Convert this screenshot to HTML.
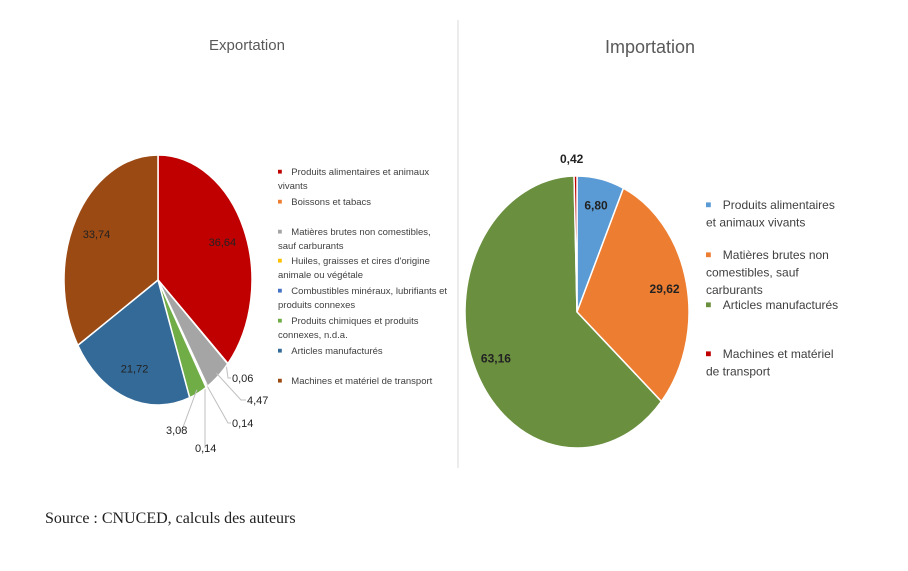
<!DOCTYPE html>
<html><head><meta charset="utf-8">
<style>
body{margin:0;background:#fff;width:908px;height:566px;overflow:hidden;font-family:"Liberation Sans",sans-serif}
svg text{font-family:"Liberation Sans",sans-serif}
</style></head>
<body>
<svg id="c" width="908" height="566">
  <text x="247" y="50" font-size="15" fill="#595959" text-anchor="middle">Exportation</text>
  <text x="650" y="53" font-size="18" fill="#595959" text-anchor="middle">Importation</text>
  <line x1="458" y1="20" x2="458" y2="468" stroke="#d9d9d9" stroke-width="1"/>
  <text x="45" y="523" font-size="16" fill="#222" style="font-family:'Liberation Serif',serif">Source : CNUCED, calculs des auteurs</text>
  <g id="exp"></g>
  <g id="imp"></g>
  <g id="leg"></g>
</svg>
<script>
const exportCategories=["Produits alimentaires et animaux vivants","Boissons et tabacs","Matières brutes non comestibles, sauf carburants","Huiles, graisses et cires d'origine animale ou végétale","Combustibles minéraux, lubrifiants et produits connexes","Produits chimiques et produits connexes, n.d.a.","Articles manufacturés","Machines et matériel de transport"];
const exportValues=[36.64,0.06,4.47,0.14,0.14,3.08,21.72,33.74];
const exportLabels=["36,64","0,06","4,47","0,14","0,14","3,08","21,72","33,74"];
const importCategories=["Produits alimentaires et animaux vivants","Matières brutes non comestibles, sauf carburants","Articles manufacturés","Machines et matériel de transport"];
const importValues=[6.80,29.62,63.16,0.42];
const importLabels=["6,80","29,62","63,16","0,42"];

const expColors=["#c00000","#ed7d31","#a5a5a5","#ffc000","#4472c4","#70ad47","#336a98","#9c4a14"];
const impColors=["#5b9bd5","#ed7d31","#6a8f3f","#c00000"];
const NS="http://www.w3.org/2000/svg";
function mk(t,a,p){const e=document.createElementNS(NS,t);for(const k in a)e.setAttribute(k,a[k]);p.appendChild(e);return e;}
function pt(cx,cy,rx,ry,ang,f){return [cx+rx*f*Math.sin(ang),cy-ry*f*Math.cos(ang)];}
function pie(g,vals,labels,colors,cx,cy,rx,ry,name,outside,bold,lf){
  const tot=vals.reduce((a,b)=>a+b,0);let a0=0;
  vals.forEach((v,i)=>{
    const a1=a0+v/tot*2*Math.PI;
    const p0=pt(cx,cy,rx,ry,a0,1),p1=pt(cx,cy,rx,ry,a1,1);
    const large=(a1-a0)>Math.PI?1:0;
    const p=mk('path',{d:`M${cx},${cy}L${p0[0]},${p0[1]}A${rx},${ry} 0 ${large} 1 ${p1[0]},${p1[1]}Z`,fill:colors[i],stroke:'#fff','stroke-width':1.5},g);
    
    
    const mid=(a0+a1)/2;
    const o=outside[i];
    let lx,ly;
    if(o){
      const e=pt(cx,cy,rx,ry,mid,0.97);
      lx=o[0];ly=o[1];
      if(o[4]!==false) mk('polyline',{points:`${e[0]},${e[1]} ${lx+o[2]},${ly-4} ${lx+o[3]},${ly-4}`,fill:'none',stroke:'#bfbfbf','stroke-width':1},g);
    } else {
      const q=pt(cx,cy,rx,ry,mid,lf);lx=q[0];ly=q[1]+4;
    }
    const t=mk('text',{x:lx,y:ly,'font-size':bold?12:11,'font-weight':bold?'bold':'normal',fill:'#222','text-anchor':o?'start':'middle'},g);
    t.textContent=labels[i];
    
    
    a0=a1;
  });
}
pie(document.getElementById('exp'),exportValues,exportLabels,expColors,158,280,94,125,'export',
 [null,[232,382,-4,-1],[247,404,-6,-1],[232,427,-4,-1],[195,452,10,10],[166,434,16,12],null,null],false,0.75);
pie(document.getElementById('imp'),importValues,importLabels,impColors,577,312,112,136,'import',
 [null,null,null,[560,163,17,17,false]],true,0.8);
const L=document.getElementById('leg');
function legend(items,colors,x,lines,fs,name){
  items.forEach((it,i)=>{
    const g=mk('g',{},L);
    
    
    const ln=lines[i];
    mk('rect',{x:x,y:ln[0]-fs*0.55,width:fs*0.4,height:fs*0.4,fill:colors[i]},g);
    ln[1].forEach((s,j)=>{const t=mk('text',{x:j==0?x+fs*1.4:x,y:ln[0]+j*fs*1.45,'font-size':fs,fill:'#404040'},g);t.textContent=s;});
  });
}
legend(exportCategories,expColors,278,[
 [175,["Produits alimentaires et animaux","vivants"]],[205,["Boissons et tabacs"]],
 [235,["Matières brutes non comestibles,","sauf carburants"]],[264,["Huiles, graisses et cires d'origine","animale ou végétale"]],
 [294,["Combustibles minéraux, lubrifiants et","produits connexes"]],[324,["Produits chimiques et produits","connexes, n.d.a."]],
 [354,["Articles manufacturés"]],[384,["Machines et matériel de transport"]]],9.5,'export');
legend(importCategories,impColors,706,[
 [209,["Produits alimentaires","et animaux vivants"]],[259,["Matières brutes non","comestibles, sauf","carburants"]],
 [309,["Articles manufacturés"]],[358,["Machines et matériel","de transport"]]],12,'import');
</script>
</body></html>
